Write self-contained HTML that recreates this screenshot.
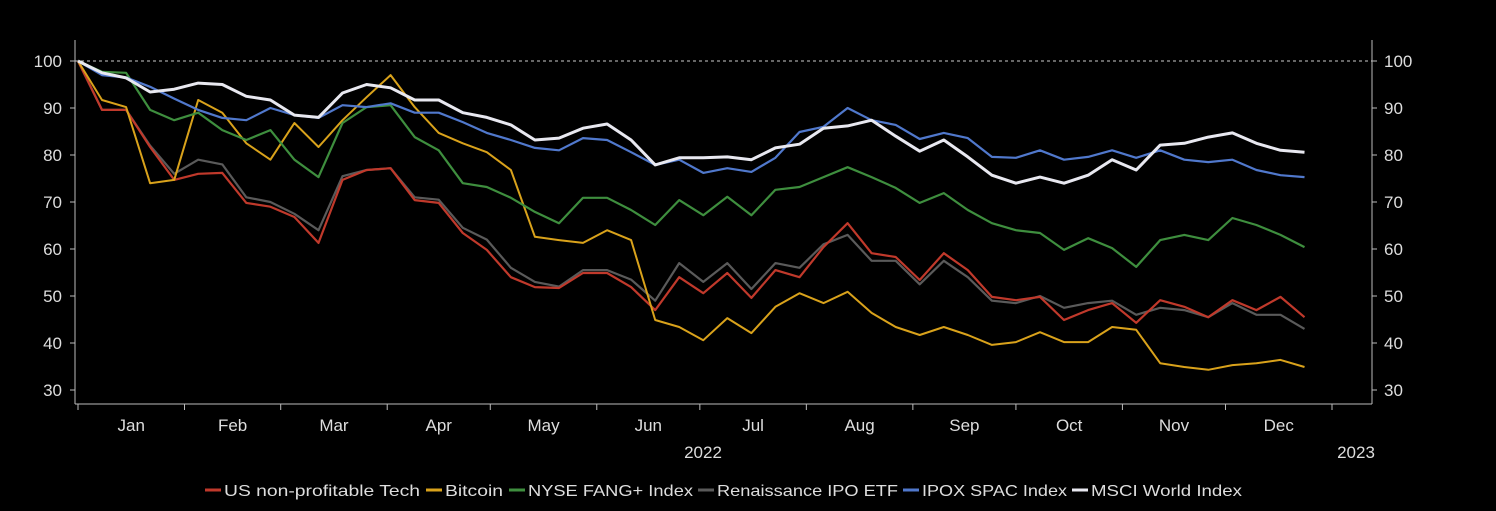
<!DOCTYPE html>
<html><head><meta charset="utf-8"><style>
html,body{margin:0;padding:0;background:#000;}
svg{display:block;font-family:"Liberation Sans",sans-serif;}
</style></head><body>
<svg id="chart" width="1496" height="511" viewBox="0 0 1496 511" xmlns="http://www.w3.org/2000/svg">
<rect x="0" y="0" width="1496" height="511" fill="#000"/>
<g id="axes"></g>
<g id="series"></g>
<g id="legend"></g>
</svg>
<script>
const days = [0,7,14,21,28,35,42,49,56,63,70,77,84,91,98,105,112,119,126,133,140,147,154,161,168,175,182,189,196,203,210,217,224,231,238,245,252,259,266,273,280,287,294,301,308,315,322,329,336,343,350,357];
const techValues = [100,89.6,89.6,81.7,74.7,76,76.2,69.8,69,66.8,61.3,74.7,76.8,77.2,70.4,69.8,63.4,59.8,54,51.9,51.7,54.9,54.9,51.9,47,54,50.6,54.9,49.6,55.5,54,60.4,65.5,59.1,58.3,53.4,59.1,55.5,49.8,49.1,49.8,44.9,47,48.5,44.3,49.1,47.7,45.5,49.1,47,49.8,45.5];
const btcValues = [100,91.7,90.2,74,74.7,91.7,89,82.5,79,86.8,81.7,87.4,92.3,97,90.2,84.7,82.5,80.6,76.8,62.6,61.9,61.3,64,61.9,44.9,43.4,40.6,45.3,42.1,47.7,50.6,48.5,50.9,46.4,43.4,41.7,43.4,41.7,39.6,40.2,42.3,40.2,40.2,43.4,42.8,35.7,34.9,34.3,35.3,35.7,36.4,34.9];
const fangValues = [100,97.7,97.5,89.6,87.4,89,85.3,83.2,85.3,79,75.3,86.8,90.2,90.6,83.8,81,74,73.2,70.9,67.9,65.5,70.9,70.9,68.3,65.1,70.4,67.2,71.1,67.2,72.6,73.2,75.3,77.4,75.3,73,69.8,71.9,68.3,65.5,64,63.4,59.8,62.3,60.2,56.2,61.9,63,61.9,66.6,65.1,63,60.4];
const ipoValues = [100,89.6,89.6,82,76,79,78,71,70,67.5,64,75.5,76.8,77.2,71,70.5,64.5,62,56,53,52,55.5,55.5,53.5,49,57,53,57,51.5,57,56,61,63,57.5,57.5,52.5,57.5,54,49,48.5,50,47.5,48.5,49,46,47.5,47,45.5,48.5,46,46,43];
const spacValues = [100,97,96.5,94.5,92,89.6,87.9,87.4,90,88.5,87.9,90.6,90.2,91,89,89,87,84.7,83.2,81.5,81,83.6,83.2,80.6,77.9,79,76.2,77.2,76.4,79.4,84.9,86,90,87.4,86.4,83.4,84.7,83.6,79.6,79.4,81,79,79.6,81,79.4,81,79,78.5,79,76.8,75.7,75.3];
const msciValues = [100,97.5,96.4,93.4,94,95.3,95,92.5,91.7,88.5,88,93.2,95,94.3,91.7,91.7,89,88,86.4,83.2,83.6,85.7,86.6,83.2,77.9,79.4,79.4,79.6,79,81.5,82.3,85.7,86.2,87.4,84,80.8,83.2,79.6,75.7,74,75.3,74,75.7,79,76.8,82.1,82.5,83.8,84.7,82.5,81,80.6];
const seriesNames = ["US non-profitable Tech","Bitcoin","NYSE FANG+ Index","Renaissance IPO ETF","IPOX SPAC Index","MSCI World Index"];
const yTicks = [30,40,50,60,70,80,90,100];
const monthLabels = ["Jan","Feb","Mar","Apr","May","Jun","Jul","Aug","Sep","Oct","Nov","Dec"];
const monthStarts = [0,31,59,90,120,151,181,212,243,273,304,334,365];

const NS="http://www.w3.org/2000/svg";
const X0=78, X1=1332, PL=75, PR=1372, YB=404;
function xScale(d){return X0+(X1-X0)*d/365;}
function yScale(v){return 61+(100-v)*4.7;}
function mk(tag,attrs,parent){const e=document.createElementNS(NS,tag);for(const k in attrs)e.setAttribute(k,attrs[k]);parent.appendChild(e);return e;}
const axes=document.getElementById('axes');
const ser=document.getElementById('series');
const leg=document.getElementById('legend');
const axCol="#bbb", txtCol="#ddd";

let e;
e=mk('line',{x1:PL,y1:40,x2:PL,y2:YB,stroke:axCol,'stroke-width':1},axes);


e=mk('line',{x1:PR,y1:40,x2:PR,y2:YB,stroke:axCol,'stroke-width':1},axes);


e=mk('line',{x1:PL,y1:YB,x2:PR,y2:YB,stroke:axCol,'stroke-width':1},axes);


e=mk('line',{x1:PL,y1:yScale(100),x2:PR,y2:yScale(100),stroke:"#ccc",'stroke-width':1,'stroke-dasharray':'3,3'},axes);



yTicks.forEach(v=>{
  const y=yScale(v);
  let t=mk('line',{x1:PL-5,y1:y,x2:PL,y2:y,stroke:axCol},axes);
  
  
  t=mk('line',{x1:PR,y1:y,x2:PR+5,y2:y,stroke:axCol},axes);
  
  
  let l=mk('text',{x:62,y:y+6,'text-anchor':'end',fill:txtCol,'font-size':17},axes);
  l.textContent=v;
  
  
  l=mk('text',{x:1384,y:y+6,'text-anchor':'start',fill:txtCol,'font-size':17},axes);
  l.textContent=v;
  
  
});
monthStarts.forEach(d=>{
  const t=mk('line',{x1:xScale(d),y1:YB,x2:xScale(d),y2:YB+6,stroke:axCol},axes);
  
  
});
monthLabels.forEach((m,i)=>{
  const l=mk('text',{x:(xScale(monthStarts[i])+xScale(monthStarts[i+1]))/2,y:431,'text-anchor':'middle',fill:txtCol,'font-size':17},axes);
  l.textContent=m;
  
  
});
e=mk('text',{x:703,y:458,'text-anchor':'middle',fill:txtCol,'font-size':17},axes);
e.textContent="2022";


e=mk('text',{x:1356,y:458,'text-anchor':'middle',fill:txtCol,'font-size':17},axes);
e.textContent="2023";



const allSeries=[
 {vals:ipoValues,col:"#5a5a5a",w:2.2,name:'line-renaissance-ipo'},
 {vals:techValues,col:"#c0392b",w:2.2,name:'line-us-nonprofitable-tech'},
 {vals:btcValues,col:"#d9a21b",w:2,name:'line-bitcoin'},
 {vals:fangValues,col:"#3e8e3e",w:2.2,name:'line-nyse-fang'},
 {vals:spacValues,col:"#5078cc",w:2.2,name:'line-ipox-spac'},
 {vals:msciValues,col:"#e8e8f0",w:3,name:'line-msci-world'}
];
allSeries.forEach(s=>{
  const pts=s.vals.map((v,i)=>xScale(days[i]).toFixed(1)+","+yScale(v).toFixed(1)).join(" ");
  const p=mk('polyline',{points:pts,fill:'none',stroke:s.col,'stroke-width':s.w,'stroke-linejoin':'round'},ser);
  
  
});

const legCols=["#c0392b","#d9a21b","#3e8e3e","#5a5a5a","#5078cc","#e8e8f0"];
const legX=[205,426,509,698,903,1072];
const legW=[196,58,165,181,145,151];
seriesNames.forEach((n,i)=>{
  const sw=mk('line',{x1:legX[i],y1:490,x2:legX[i]+16,y2:490,stroke:legCols[i],'stroke-width':3},leg);
  
  
  const t=mk('text',{x:legX[i]+19,y:496,fill:txtCol,'font-size':16,textLength:legW[i],lengthAdjust:'spacingAndGlyphs'},leg);
  t.textContent=n;
  
  
});
</script>
</body></html>
